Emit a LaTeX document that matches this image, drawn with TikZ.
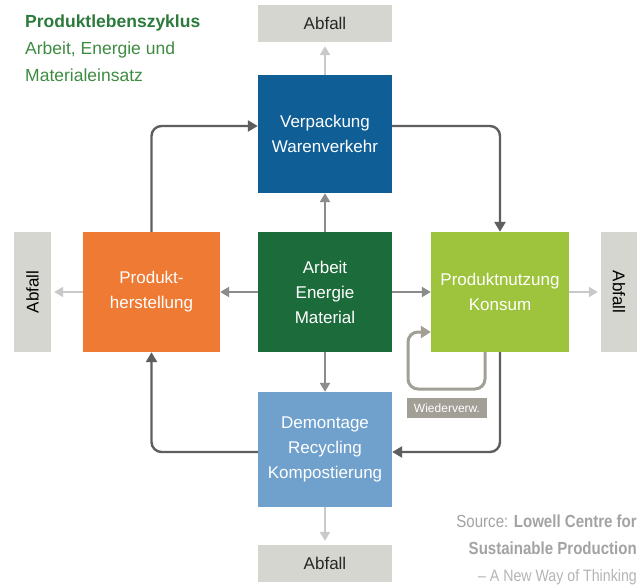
\documentclass[tikz,border=0pt]{standalone}
\usepackage{fontspec}
\setmainfont{Liberation Sans}
\newfontfamily\srcfont[FakeStretch=0.86]{Liberation Sans}
\usetikzlibrary{arrows.meta}
\definecolor{cblue}{HTML}{0F5E96}
\definecolor{cdgreen}{HTML}{1C6B3A}
\definecolor{corange}{HTML}{EE7A33}
\definecolor{clgreen}{HTML}{9DC43C}
\definecolor{clblue}{HTML}{70A1CD}
\definecolor{cabfall}{HTML}{D6D6D1}
\definecolor{cwieder}{HTML}{A29F97}
\definecolor{cdark}{HTML}{5E5E5E}
\definecolor{cmid}{HTML}{8C8C8C}
\definecolor{clight}{HTML}{C9C9C9}
\definecolor{ctitle}{HTML}{2C7A3C}
\definecolor{ctext}{HTML}{3E8C42}
\definecolor{csrc}{HTML}{A3A3A3}
\definecolor{csrcl}{HTML}{B5B5B5}
\tikzset{
  box/.style={minimum width=134pt, minimum height=118pt, inner sep=0pt, align=center,
    text=white, font=\fontsize{17}{25}\selectfont},
  abfallh/.style={fill=cabfall, minimum width=134pt, minimum height=37pt, inner sep=0pt,
    text=black!85, font=\fontsize{17}{20}\selectfont},
  abfallv/.style={fill=cabfall, minimum width=37pt, minimum height=120pt, inner sep=0pt,
    font=\fontsize{17}{20}\selectfont},
  darkarrow/.style={draw=cdark, line width=2.4pt, rounded corners=10pt,
    -{Triangle[length=10pt,width=11pt]}},
  midarrow/.style={draw=cmid, line width=2.4pt, -{Triangle[length=9pt,width=10pt]}},
  lightarrow/.style={draw=clight, line width=2pt, -{Triangle[length=9pt,width=10pt]}},
  loopline/.style={draw=cwieder, line width=3pt, rounded corners=10pt,
    -{Triangle[length=10pt,width=12pt]}}
}
\begin{document}
\begin{tikzpicture}[x=1pt,y=-1pt]
\useasboundingbox[fill=white] (0,0) rectangle (637,588);

% title
\node[anchor=base west, inner sep=0pt, text=ctitle, font=\fontsize{17.5}{20}\selectfont\bfseries] (title) at (25,28) {Produktlebenszyklus};
\node[anchor=base west, inner sep=0pt, text=ctext, font=\fontsize{17.5}{20}\selectfont] (sub1) at (25,55) {Arbeit, Energie und};
\node[anchor=base west, inner sep=0pt, text=ctext, font=\fontsize{17.5}{20}\selectfont] (sub2) at (25,82) {Materialeinsatz};

% main boxes
\node[box, fill=cblue, minimum height=118pt] (verp) at (325,134) {Verpackung\\Warenverkehr};
\node[box, fill=cdgreen, minimum height=120pt] (arb) at (325,292) {Arbeit\\Energie\\Material};
\node[box, fill=corange, minimum width=137pt, minimum height=120pt] (herst) at (151.5,292) {Produkt-\\herstellung};
\node[box, fill=clgreen, minimum width=138pt, minimum height=120pt] (nutz) at (500,292) {Produktnutzung\\Konsum};
\node[box, fill=clblue, minimum height=115pt] (demo) at (325,449.5) {Demontage\\Recycling\\Kompostierung};

% Abfall boxes
\node[abfallh] (abT) at (325,23.5) {Abfall};
\node[abfallh] (abB) at (325,563.5) {Abfall};
\node[abfallv] (abL) at (32.5,292) {\rotatebox{90}{Abfall}};
\node[abfallv, minimum width=36pt] (abR) at (619,292) {\rotatebox{-90}{Abfall}};

% Wiederverw.
\node[fill=cwieder, text=white, minimum width=80pt, minimum height=20pt, inner sep=0pt,
  font=\fontsize{12}{14}\selectfont] (wv) at (447,408) {Wiederverw.};

% source
\node[anchor=base east, inner sep=0pt, text=csrc, font=\srcfont\fontsize{17.5}{20}\selectfont] (src1) at (637,527) {Source: \textbf{Lowell Centre for}};
\node[anchor=base east, inner sep=0pt, text=csrc, font=\srcfont\fontsize{17.5}{20}\selectfont\bfseries] (src2) at (637,554) {Sustainable Production};
\node[anchor=base east, inner sep=0pt, text=csrcl, font=\srcfont\fontsize{16.5}{20}\selectfont] (src3) at (637,581) {– A New Way of Thinking};

% cycle arrows
\draw[darkarrow] (herst.north) |- ([yshift=8pt]verp.west);
\draw[darkarrow] ([yshift=8pt]verp.east) -| (nutz.north);
\draw[darkarrow] (nutz.south) |- ([yshift=-2.5pt]demo.east);
\draw[darkarrow] ([yshift=-2.5pt]demo.west) -| (herst.south);

% center arrows
\draw[midarrow] (arb.north) -- (verp.south);
\draw[midarrow] (arb.west) -- (herst.east);
\draw[midarrow] (arb.east) -- (nutz.west);
\draw[midarrow] (arb.south) -- (demo.north);

% waste arrows
\draw[lightarrow, shorten >=4pt] (verp.north) -- (abT.south);
\draw[lightarrow, shorten >=3pt] (herst.west) -- (abL.east);
\draw[lightarrow, shorten >=3pt] (nutz.east) -- (abR.west);
\draw[lightarrow, shorten >=4pt] (demo.south) -- (abB.north);

% reuse loop
\coordinate (loopL) at (408,389);
\draw[loopline] ([xshift=-15pt]nutz.south) |- (loopL) |- ([yshift=-40pt]nutz.west);
\end{tikzpicture}
\end{document}
